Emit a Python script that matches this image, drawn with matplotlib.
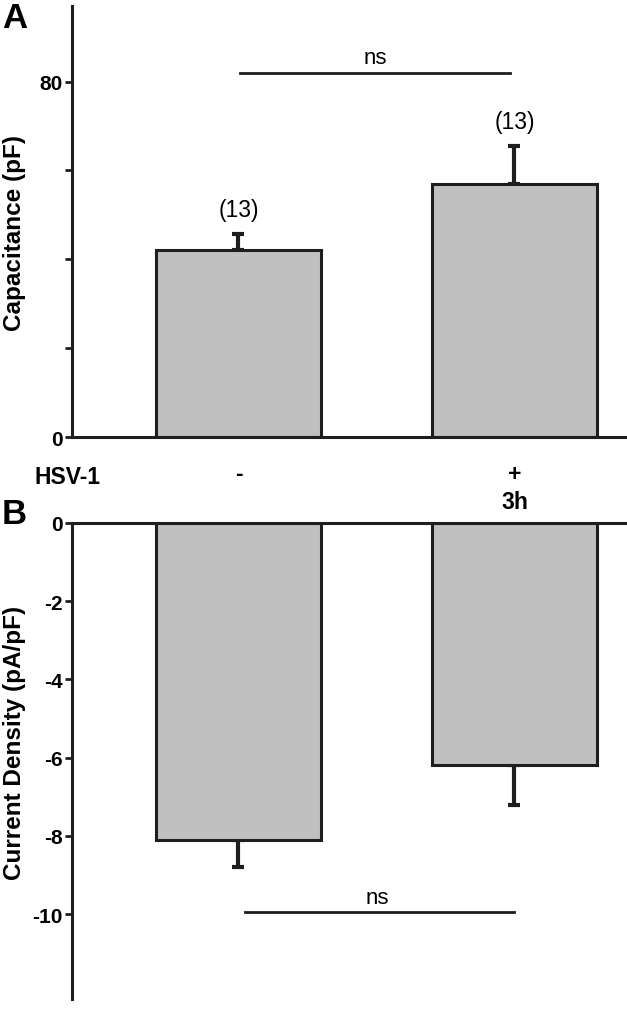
import matplotlib
matplotlib.use("Agg")
import matplotlib.pyplot as plt

plt.rcParams['font.family'] = ['Liberation Sans', 'DejaVu Sans']

# data
cap_mean = [42.0, 56.9]
cap_err = [3.6, 8.5]
cap_n = ['(13)', '(13)']
dens_mean = [-8.1, -6.2]
dens_err = [0.7, 1.0]
hsv_row1 = ['-', '+']
hsv_row2 = ['', '3h']

bar_fill = '#c0c0c0'
edge = '#1e1e1e'
x = [0, 1]

fig = plt.figure(figsize=(6.27, 10.2), dpi=100)

# panel A
ax1 = fig.add_axes([72/627, 1 - 438/1020, 1 - 72/627, 431/1020])
ax1.bar(x, cap_mean, width=0.6, color=bar_fill, edgecolor=edge, linewidth=2.2, zorder=2)
ax1.errorbar(x, cap_mean, yerr=[[0, 0], cap_err], fmt='none', ecolor=edge,
             elinewidth=3, capsize=4.5, capthick=3, zorder=1)
ax1.set_xlim(-0.603, 1.408)
ax1.set_ylim(0, 97)
ax1.set_yticks([0, 20, 40, 60, 80])
ax1.set_yticklabels(['0', '', '', '', '80'], fontweight='bold', fontsize=15)
ax1.set_xticks([])
for s in ['top', 'right']:
    ax1.spines[s].set_visible(False)
for s in ['left', 'bottom']:
    ax1.spines[s].set_linewidth(2.2)
    ax1.spines[s].set_color(edge)
ax1.tick_params(axis='y', length=5, width=2, color=edge, pad=2)
ax1.set_ylabel('Capacitance (pF)', fontweight='bold', fontsize=17.5)
ax1.yaxis.set_label_coords(-0.082, 0.475)

for xi, m, e, n in zip(x, cap_mean, cap_err, cap_n):
    ax1.text(xi, m + e + 5.6, n, ha='center', va='center', fontsize=16.5)

ax1.plot([0.005, 0.983], [82.0, 82.0], color=edge, lw=2, clip_on=False)
ax1.text(0.495, 85.4, 'ns', ha='center', va='center', fontsize=16)

xt = ax1.get_xaxis_transform()
for xi, a, b in zip(x, hsv_row1, hsv_row2):
    ax1.text(xi, -0.085, a, transform=xt, ha='center', va='center',
             fontweight='bold', fontsize=16.5)
    ax1.text(xi, -0.149, b, transform=xt, ha='center', va='center',
             fontweight='bold', fontsize=16.5)
fig.text(35/627, 1 - 477/1020, 'HSV-1', ha='left', va='center',
         fontweight='bold', fontsize=16.5)

# panel B
ax2 = fig.add_axes([72/627, 1 - 1000/1020, 1 - 72/627, 476/1020])
ax2.bar(x, dens_mean, width=0.6, color=bar_fill, edgecolor=edge, linewidth=2.2, zorder=2)
ax2.errorbar(x, dens_mean, yerr=[dens_err, [0, 0]], fmt='none', ecolor=edge,
             elinewidth=3, capsize=4.5, capthick=3, zorder=1)
ax2.set_xlim(-0.603, 1.408)
ax2.set_ylim(-12.17, 0)
ax2.set_yticks([0, -2, -4, -6, -8, -10])
ax2.set_yticklabels(['0', '-2', '-4', '-6', '-8', '-10'], fontweight='bold', fontsize=15)
ax2.set_xticks([])
for s in ['right', 'bottom']:
    ax2.spines[s].set_visible(False)
for s in ['left', 'top']:
    ax2.spines[s].set_linewidth(2.2)
    ax2.spines[s].set_color(edge)
ax2.tick_params(axis='y', length=5, width=2, color=edge, pad=2)
ax2.set_ylabel('Current Density (pA/pF)', fontweight='bold', fontsize=17.5)
ax2.yaxis.set_label_coords(-0.082, 0.54)

ax2.plot([0.025, 1.0], [-9.95, -9.95], color=edge, lw=2, clip_on=False)
ax2.text(0.505, -9.57, 'ns', ha='center', va='center', fontsize=16)

fig.text(2/627, 1 - 18/1020, 'A', ha='left', va='center', fontweight='bold', fontsize=25)
fig.text(2/627, 1 - 514/1020, 'B', ha='left', va='center', fontweight='bold', fontsize=25)

fig.savefig('out.png', dpi=100)
